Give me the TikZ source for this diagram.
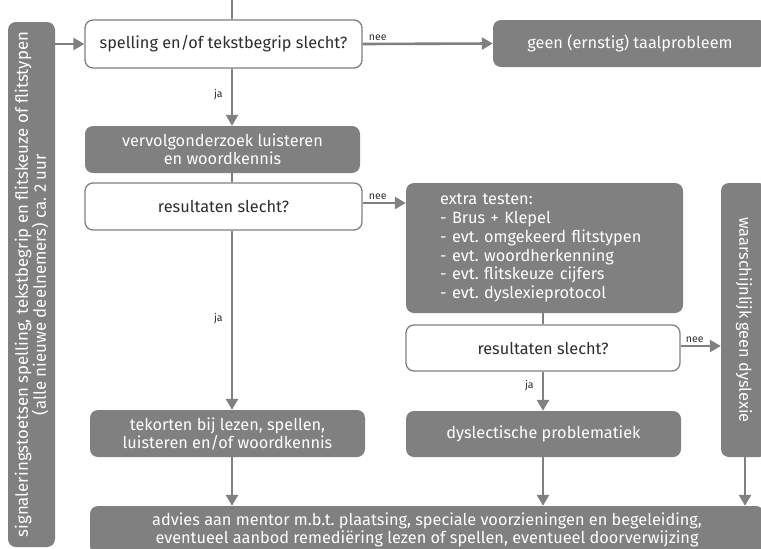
\documentclass[tikz,border=0pt]{standalone}
\usepackage{fontspec}
\setmainfont{Fira Sans}
\usetikzlibrary{arrows.meta}

\definecolor{flowgray}{RGB}{128,128,128}
\definecolor{flowtext}{RGB}{45,45,45}

\newcommand{\FCboxw}{275pt}
\newcommand{\FCboxh}{47pt}
\newcommand{\FCcolA}{232}
\newcommand{\FCcolB}{543}
\frenchspacing

\begin{document}
\begin{tikzpicture}[x=1pt,y=-1pt,
	vraag/.style={draw=flowgray,line width=1.3pt,fill=white,rounded corners=8pt,text=flowtext,
		font=\fontsize{16.3}{18}\selectfont,align=center,inner sep=0pt,
		minimum width=\FCboxw,minimum height=\FCboxh},
	uitkomst/.style={fill=flowgray,draw=none,rounded corners=8pt,text=white,
		font=\fontsize{16.3}{18}\selectfont,align=center,inner sep=0pt,
		minimum width=\FCboxw,minimum height=\FCboxh},
	pijl/.style={draw=flowgray,line width=2.6pt,-{Triangle[length=11pt,width=12pt]}},
	lijn/.style={draw=flowgray,line width=2.6pt},
	keuze/.style={font=\fontsize{10.5}{12}\selectfont,text=flowtext,inner sep=2pt}]

	\useasboundingbox (0,0) rectangle (761,549);
	\clip (0,0) rectangle (761,549);

	%The columns of the arrows
	\coordinate (colA) at (\FCcolA,0);
	\coordinate (colB) at (\FCcolB,0);
	\coordinate (colC) at (745,0);

	%The test on the left
	\node (signal) at (31.5,284.5) [uitkomst,rotate=90,minimum width=525pt,minimum height=47pt,
		font=\fontsize{16.8}{18}\selectfont]
		{signaleringstoetsen spelling, tekstbegrip en flitskeuze of flitstypen\\(alle nieuwe deelnemers) ca. 2 uur};

	%The questions
	\node (vraag1) at (223.5,44) [vraag,minimum width=277pt,minimum height=48pt] {spelling en/of tekstbegrip slecht?};
	\node (vraag2) at (223.5,206.5) [vraag,minimum width=277pt] {resultaten slecht?};
	\node (vraag3) at (543,348) [vraag,minimum width=274pt,minimum height=46pt] {resultaten slecht?};

	%The outcomes
	\node (geen) at (630,43.5) [uitkomst,minimum width=274pt] {geen (ernstig) taalprobleem};
	\node (vervolg) at (222.5,149.5) [uitkomst] {vervolgonderzoek luisteren\\en woordkennis};
	\node (extra) at (544.5,248) [uitkomst,minimum width=277pt,minimum height=130pt,
		text width=209pt,align=left,font=\fontsize{16.3}{18.8}\selectfont]
		{extra testen:\\- Brus + Klepel\\- evt. omgekeerd flitstypen\\- evt. woordherkenning\\- evt. flitskeuze cijfers\\- evt. dyslexieprotocol};
	\node (waarsch) at (744,320) [uitkomst,rotate=-90,minimum width=274pt,minimum height=46pt] {waarschijnlijk geen dyslexie};
	\node (tekort) at (227.5,433.5) [uitkomst] {tekorten bij lezen, spellen,\\luisteren en/of woordkennis};
	\node (dysl) at (543.5,434) [uitkomst,minimum height=46pt] {dyslectische problematiek};
	\node (advies) at (427,530) [uitkomst,minimum width=674pt,minimum height=48pt]
		{advies aan mentor m.b.t. plaatsing, speciale voorzieningen en begeleiding,\\eventueel aanbod remediëring lezen of spellen, eventueel doorverwijzing};

	%The connectors
	\draw[lijn] (colA) -- (vraag1.north -| colA);
	\draw[pijl] (signal.south |- vraag1.west) -- (vraag1.west);
	\draw[pijl] (vraag1.east) -- node[keuze,pos=0,anchor=south west,xshift=3pt] {nee} (geen.west);
	\draw[pijl] (vraag1.south -| colA) -- node[keuze,left=6pt,pos=.45] {ja} (vervolg.north -| colA);
	\draw[lijn] (vervolg.south -| colA) -- (vraag2.north -| colA);
	\draw[pijl] ([yshift=3.5pt]vraag2.east) -- node[keuze,pos=0,anchor=south west,xshift=3pt] {nee} ([yshift=3.5pt]vraag2.east -| extra.west);
	\draw[pijl] (vraag2.south -| colA) -- node[keuze,left=6pt,pos=.49] {ja} (tekort.north -| colA);
	\draw[lijn] (extra.south -| colB) -- (vraag3.north -| colB);
	\draw[pijl] ([yshift=2pt]vraag3.east) -- node[keuze,pos=0,anchor=south west,xshift=2pt] {nee} ([yshift=2pt]vraag3.east -| waarsch.south);
	\draw[pijl] (vraag3.south -| colB) -- node[keuze,left=6pt,pos=.35] {ja} (dysl.north -| colB);
	\draw[pijl] (tekort.south -| colA) -- (advies.north -| colA);
	\draw[pijl] (dysl.south -| colB) -- (advies.north -| colB);
	\draw[pijl] (waarsch.east -| colC) -- (advies.north -| colC);

\end{tikzpicture}
\end{document}
